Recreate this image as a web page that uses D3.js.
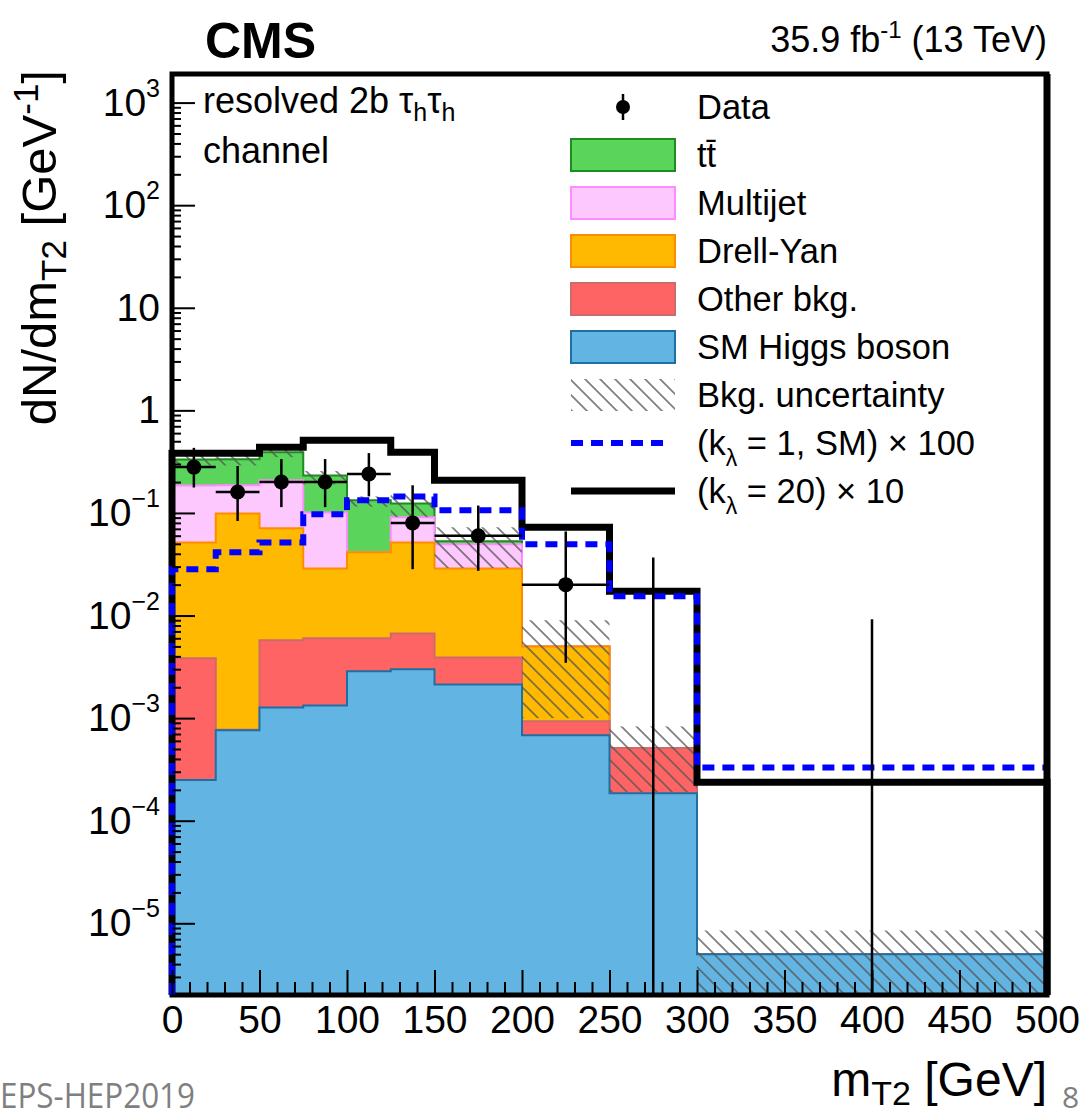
<!DOCTYPE html>
<html>
<head>
<meta charset="utf-8">
<script src="https://cdn.jsdelivr.net/npm/d3@7"></script>
<style>
body { margin: 0; background: #fff; }
svg text { font-family: "Liberation Sans", Arial, Helvetica, sans-serif; fill: #000; }
</style>
</head>
<body>
<div id="c"></div>
<script>
"use strict";

// m_T2 bin edges [GeV]
const binEdges = [0, 25, 50, 75, 100, 125, 150, 200, 250, 300, 500]

// stacked backgrounds, dN/dmT2 [1/GeV], bottom to top
const higgs    = [2.5e-4, 7.6e-4, 1.27e-3, 1.33e-3, 2.86e-3, 2.99e-3, 2.13e-3, 6.8e-4, 1.85e-4, 5.0e-6]
const otherBkg = [3.58e-3, 1.0e-5, 4.46e-3, 4.67e-3, 3.14e-3, 3.71e-3, 1.77e-3, 2.5e-4, 3.25e-4, 0]
const drellYan = [0.0478, 0.0982, 0.0651, 0.0228, 0.0353, 0.0449, 0.0249, 4.07e-3, 0, 0]
const multijet = [0.134, 0.087, 0.137, 0.072, 0, 0.039, 0.0206, 0, 0, 0]
const ttbar    = [0.147, 0.147, 0.182, 0.131, 0.092, 0.033, 0.0036, 0, 0, 0]

// background uncertainty band
const uncLow  = [0.29, 0.29, 0.35, 0.19, 0.115, 0.091, 0.029, 1.0e-3, 1.9e-4, 1e-7]
const uncHigh = [0.38, 0.38, 0.43, 0.256, 0.145, 0.151, 0.0725, 9.0e-3, 8.3e-4, 8.5e-6]

// observed data with errors
const dataVal  = [0.28, 0.16, 0.20, 0.20, 0.24, 0.08, 0.06, 0.02, 0, 0]
const dataLow  = [0.177, 0.0834, 0.114, 0.114, 0.145, 0.0283, 0.0273, 0.00346, 0, 0]
const dataHigh = [0.431, 0.287, 0.335, 0.335, 0.383, 0.186, 0.118, 0.066, 0.0368, 0.0092]

// signals
const sigSM  = [0.0282, 0.0413, 0.0516, 0.0969, 0.133, 0.145, 0.106, 0.0494, 0.0154, 3.31e-4]
const sigK20 = [0.381, 0.381, 0.436, 0.510, 0.510, 0.39, 0.208, 0.0724, 0.0172, 2.37e-4]

// axis ticks
const xMajor = [0, 50, 100, 150, 200, 250, 300, 350, 400, 450, 500]
const yMajor = [1e-5, 1e-4, 1e-3, 1e-2, 1e-1, 1, 10, 100, 1000]
const yTickLabels = ["10^−5", "10^−4", "10^−3", "10^−2", "10^−1", "1", "10", "10^2", "10^3"]

const processes = [
    {key: "higgs", values: higgs, fill: "#62b4e2", stroke: "#1f6fa5", label: "SM Higgs boson"},
    {key: "other", values: otherBkg, fill: "#ff6464", stroke: "#cf6a6a", label: "Other bkg."},
    {key: "dy", values: drellYan, fill: "#ffb900", stroke: "#ff8c00", label: "Drell-Yan"},
    {key: "multijet", values: multijet, fill: "#fdc8fd", stroke: "#ff8cff", label: "Multijet"},
    {key: "ttbar", values: ttbar, fill: "#5bd45b", stroke: "#1e8c1e", label: "tt"},
]

const W = 1088, H = 1117
const margin = {top: 74, right: 41, bottom: 122, left: 172}

let svg, x, y

window.onload = function() {
    createChart()
}

function yv(v) {
    return y(Math.max(v, 1e-9))
}

function stepPoints(values, closeToBottom) {
    let pts = values.map((v, i) => [binEdges[i], v])
    pts.push([binEdges[binEdges.length-1], values[values.length-1]])
    if(closeToBottom) {
        pts.unshift([binEdges[0], 0])
        pts.push([binEdges[binEdges.length-1], 0])
    }
    return pts
}

function createChart() {
    svg = d3.select('#c').append('svg')
        .attr('width', W).attr('height', H)

    x = d3.scaleLinear().domain([0, 500]).range([margin.left, W - margin.right])
    y = d3.scaleLog().domain([2e-6, 1.9e3]).range([H - margin.bottom, margin.top]).clamp(true)

    let defs = svg.append('defs')
    let s = 15
    let pat = defs.append('pattern').attr('id', 'hatch')
        .attr('patternUnits', 'userSpaceOnUse')
        .attr('width', s).attr('height', s)
    pat.append('path')
        .attr('d', 'M0,0L'+s+','+s+'M'+(-s/4)+','+(3*s/4)+'L'+(s/4)+','+(5*s/4)+'M'+(3*s/4)+','+(-s/4)+'L'+(5*s/4)+','+(s/4))
        .attr('stroke', '#555').attr('stroke-opacity', 0.75).attr('stroke-width', 1.8)

    // ---- stacked backgrounds (ROOT style: top cumulative drawn first)
    let rows = binEdges.slice(0, -1).map((e, i) => {
        let r = {}
        processes.forEach(p => r[p.key] = p.values[i])
        return r
    })
    let stack = d3.stack().keys(processes.map(p => p.key))(rows)

    let area = d3.area().curve(d3.curveStepAfter)
        .x(d => x(d[0])).y0(y.range()[0]).y1(d => yv(d[1]))
    let line = d3.line().curve(d3.curveStepAfter)
        .x(d => x(d[0])).y(d => yv(d[1]))

    let stackLayer = svg.append('g')
    for(let li = stack.length - 1; li >= 0; li--) {
        let layer = stack[li]
        let p = processes[li]
        let pts = stepPoints(layer.map(d => d[1]), false)
        stackLayer.append('path')
            .attr('d', area(pts))
            .attr('fill', p.fill)
        stackLayer.append('path')
            .attr('d', line(pts))
            .attr('fill', 'none')
            .attr('stroke', p.stroke)
            .attr('stroke-width', 2)
    }

    // ---- uncertainty band
    svg.append('g').selectAll('rect')
        .data(uncLow)
        .enter().append('rect')
            .attr('x', (d, i) => x(binEdges[i]))
            .attr('width', (d, i) => x(binEdges[i+1]) - x(binEdges[i]))
            .attr('y', (d, i) => yv(uncHigh[i]))
            .attr('height', (d, i) => yv(uncLow[i]) - yv(uncHigh[i]))
            .attr('fill', 'url(#hatch)')

    // ---- frame
    svg.append('rect')
        .attr('x', x.range()[0]).attr('y', y.range()[1])
        .attr('width', x.range()[1] - x.range()[0])
        .attr('height', y.range()[0] - y.range()[1])
        .attr('fill', 'none')
        .attr('stroke', '#000')
        .attr('stroke-width', 5)

    // ---- signal lines
    svg.append('path')
        .attr('d', line(stepPoints(sigK20, true)))
        .attr('fill', 'none')
        .attr('stroke', '#000')
        .attr('stroke-width', 7)
    svg.append('path')
        .attr('d', line(stepPoints(sigSM, true)))
        .attr('fill', 'none')
        .attr('stroke', '#0000ff')
        .attr('stroke-width', 6)
        .attr('stroke-dasharray', '12,8')

    // right frame edge redrawn over the histograms
    svg.append('line')
        .attr('x1', x.range()[1]).attr('x2', x.range()[1])
        .attr('y1', y.range()[1]).attr('y2', y.range()[0])
        .attr('stroke', '#000').attr('stroke-width', 7)

    // ---- axes
    let xAxis = svg.append('g')
        .attr('transform', 'translate(0,' + y.range()[0] + ')')
        .call(d3.axisBottom(x).tickValues(xMajor).tickSizeInner(-25).tickSizeOuter(0)
            .tickPadding(10).tickFormat(d3.format('d')))
    let xMinor = svg.append('g')
        .attr('transform', 'translate(0,' + y.range()[0] + ')')
        .call(d3.axisBottom(x).tickValues(d3.range(0, 501, 10).filter(v => v % 50))
            .tickSizeInner(-13).tickSizeOuter(0).tickFormat(() => ''))

    let yAxis = svg.append('g')
        .attr('transform', 'translate(' + x.range()[0] + ',0)')
        .call(d3.axisLeft(y).tickValues(yMajor).tickSizeInner(-23).tickSizeOuter(0)
            .tickPadding(12).tickFormat(() => ''))
    let minorVals = []
    for(let e = -6; e <= 2; e++)
        for(let k = 2; k <= 9; k++) {
            let v = k * Math.pow(10, e)
            if(v >= y.domain()[0] && v <= y.domain()[1]) minorVals.push(v)
        }
    let yMinor = svg.append('g')
        .attr('transform', 'translate(' + x.range()[0] + ',0)')
        .call(d3.axisLeft(y).tickValues(minorVals).tickSizeInner(-9).tickSizeOuter(0).tickFormat(() => ''))

    ;[xAxis, xMinor, yAxis, yMinor].forEach(g => {
        g.select('.domain').remove()
        g.attr('font-family', null).attr('font-size', null)
        g.selectAll('line').attr('stroke', '#000').attr('stroke-width', 2)
    })
    xAxis.selectAll('text').style('font-size', '39px')

    yAxis.selectAll('.tick text').each(function(d, i) {
        let t = d3.select(this).style('font-size', '39px')
        let parts = yTickLabels[i].split('^')
        t.text(null)
        t.append('tspan').text(parts[0])
        if(parts.length > 1) {
            t.append('tspan').text(parts[1])
                .attr('dy', -19).style('font-size', '25px')
        }
    })

    // ---- data points
    let dataG = svg.append('g')
    dataVal.forEach((v, i) => {
        let cx = x((binEdges[i] + binEdges[i+1]) / 2)
        dataG.append('line')
            .attr('x1', cx).attr('x2', cx)
            .attr('y1', yv(dataLow[i])).attr('y2', yv(dataHigh[i]))
            .attr('stroke', '#000').attr('stroke-width', 2.5)
        if(v > 0) {
            dataG.append('line')
                .attr('x1', x(binEdges[i])).attr('x2', x(binEdges[i+1]))
                .attr('y1', yv(v)).attr('y2', yv(v))
                .attr('stroke', '#000').attr('stroke-width', 2.5)
            dataG.append('circle')
                .attr('cx', cx).attr('cy', yv(v)).attr('r', 7.5)
                .attr('fill', '#000')
        }
    })

    drawLegend()
    drawLabels()
}

function drawLegend() {
    let lg = svg.append('g').attr('transform', 'translate(571,107)')
    let rowH = 48
    let boxW = 104, boxH = 32
    let items = [
        {type: 'data', label: 'Data'},
    ]
    processes.slice().reverse().forEach(p => items.push({type: 'box', p: p, label: p.label}))
    items.push({type: 'hatch', label: 'Bkg. uncertainty'})
    items.push({type: 'dash', label: '(k|λ| = 1, SM) × 100'})
    items.push({type: 'solid', label: '(k|λ| = 20) × 10'})

    items.forEach((it, i) => {
        let g = lg.append('g').attr('transform', 'translate(0,' + i*rowH + ')')
        if(it.type == 'data') {
            g.append('line').attr('x1', 52).attr('x2', 52).attr('y1', -13).attr('y2', 13)
                .attr('stroke', '#000').attr('stroke-width', 2.5)
            g.append('circle').attr('cx', 52).attr('cy', 0).attr('r', 7).attr('fill', '#000')
        } else if(it.type == 'box') {
            g.append('rect').attr('x', 0).attr('y', -boxH/2).attr('width', boxW).attr('height', boxH)
                .attr('fill', it.p.fill).attr('stroke', it.p.stroke).attr('stroke-width', 2)
        } else if(it.type == 'hatch') {
            g.append('rect').attr('x', 0).attr('y', -boxH/2).attr('width', boxW).attr('height', boxH)
                .attr('fill', 'url(#hatch)')
        } else if(it.type == 'dash') {
            g.append('line').attr('x1', 0).attr('x2', boxW - 6).attr('y1', 0).attr('y2', 0)
                .attr('stroke', '#0000ff').attr('stroke-width', 6).attr('stroke-dasharray', '12,8')
        } else {
            g.append('line').attr('x1', 0).attr('x2', boxW).attr('y1', 0).attr('y2', 0)
                .attr('stroke', '#000').attr('stroke-width', 7)
        }
        let t = g.append('text').attr('x', 126).attr('y', 12).style('font-size', '34.5px')
        if(it.label == 'tt') {
            t.append('tspan').text('t')
            t.append('tspan').text('t\u0304')
        } else if(it.label.indexOf('|') >= 0) {
            let parts = it.label.split('|')
            t.append('tspan').text(parts[0])
            t.append('tspan').text(parts[1]).attr('dy', 11).style('font-size', '23px')
            t.append('tspan').text(parts[2]).attr('dy', -11)
        } else {
            t.text(it.label)
        }
    })
}

function drawLabels() {
    svg.append('text')
        .attr('x', 205).attr('y', 58)
        .style('font-size', '50px').style('font-weight', 'bold')
        .text('CMS')

    let lumi = svg.append('text')
        .attr('x', 1047).attr('y', 52)
        .attr('text-anchor', 'end')
        .style('font-size', '36px')
    lumi.append('tspan').text('35.9 fb')
    lumi.append('tspan').text('-1').attr('dy', -14).style('font-size', '24px')
    lumi.append('tspan').text(' (13 TeV)').attr('dy', 14)

    let ch = svg.append('text').attr('x', 203).attr('y', 113).style('font-size', '36px')
    ch.append('tspan').text('resolved 2b  τ')
    ch.append('tspan').text('h').attr('dy', 8).style('font-size', '25px')
    ch.append('tspan').text('τ').attr('dy', -8)
    ch.append('tspan').text('h').attr('dy', 8).style('font-size', '25px')
    svg.append('text').attr('x', 203).attr('y', 163).style('font-size', '36px').text('channel')

    // y title
    let yt = svg.append('text')
        .attr('transform', 'translate(56,70) rotate(-90)')
        .attr('text-anchor', 'end')
        .style('font-size', '49px')
    yt.append('tspan').text('dN/dm')
    yt.append('tspan').text('T2').attr('dy', 10).style('font-size', '35px')
    yt.append('tspan').text(' [GeV').attr('dy', -10)
    yt.append('tspan').text('-1').attr('dy', -18).style('font-size', '35px')
    yt.append('tspan').text(']').attr('dy', 18)

    // x title
    let xt = svg.append('text')
        .attr('x', 1047).attr('y', 1096)
        .attr('text-anchor', 'end')
        .style('font-size', '48px')
    xt.append('tspan').text('m')
    xt.append('tspan').text('T2').attr('dy', 9).style('font-size', '34px')
    xt.append('tspan').text(' [GeV]').attr('dy', -9)

    svg.append('text')
        .attr('x', 0).attr('y', 1108)
        .attr('textLength', 195).attr('lengthAdjust', 'spacingAndGlyphs')
        .style('font-family', '"Open Sans", sans-serif')
        .style('font-size', '34px').style('fill', '#7f7f7f')
        .text('EPS-HEP2019')
    svg.append('text')
        .attr('x', 1062).attr('y', 1108)
        .style('font-family', '"Open Sans", sans-serif')
        .style('font-size', '30px').style('fill', '#7f7f7f')
        .text('8')
}
</script>
</body>
</html>
